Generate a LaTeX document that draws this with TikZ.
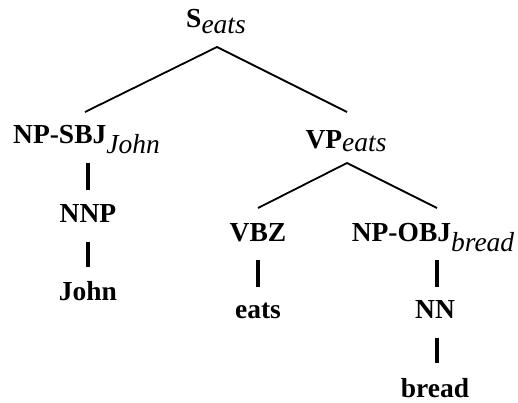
\documentclass[tikz,border=0pt]{standalone}
\usepackage{fontspec}
\setmainfont{Liberation Serif}[
  BoldFont={Liberation Serif Bold},
  ItalicFont={Liberation Serif Italic}]
\begin{document}
\begin{tikzpicture}[x=1pt,y=-1pt,
  lbl/.style={anchor=base,inner sep=0pt,font=\fontsize{27.5}{31}\selectfont\bfseries},
  branch/.style={line width=1.8pt},
  stem/.style={line width=3.4pt}]
\useasboundingbox (0,0) rectangle (518,402);
\newcommand{\subs}[2]{\raisebox{-#1pt}{\mdseries\itshape #2}}
% labels
\node[lbl] (S)     at (216,27.5)  {S\subs{6}{eats}};
\node[lbl] (NPSBJ) at (86.5,143) {NP-SBJ\subs{10}{John}};
\node[lbl] (VP)    at (346,148) {VP\subs{3}{eats}};
\node[lbl] (NNP)   at (88,222)  {NNP};
\node[lbl] (John)  at (88,300)  {John};
\node[lbl] (VBZ)   at (258,241) {VBZ};
\node[lbl] (NPOBJ) at (433,241) {NP-OBJ\subs{10}{bread}};
\node[lbl] (eats)  at (258,318) {eats};
\node[lbl] (NN)    at (435,318) {NN};
\node[lbl] (bread) at (435,397) {bread};
% connector end points
\coordinate (S-b) at (217,47);
\coordinate (NPSBJ-t) at (85,112);
\coordinate (VP-t) at (347,112);
\coordinate (VP-b) at (347,163);
\coordinate (VBZ-t) at (258,208);
\coordinate (NPOBJ-t) at (437,208);
\coordinate (NPSBJ-b) at (88,163);
\coordinate (NNP-t) at (88,190);
\coordinate (NNP-b) at (88,242);
\coordinate (John-t) at (88,267);
\coordinate (VBZ-b) at (258,260);
\coordinate (eats-t) at (258,287);
\coordinate (NPOBJ-b) at (437,260);
\coordinate (NN-t) at (437,287);
\coordinate (NN-b) at (437,338);
\coordinate (bread-t) at (437,363);
% connectors
\draw[branch] (NPSBJ-t) -- (S-b) -- (VP-t);
\draw[branch] (VBZ-t) -- (VP-b) -- (NPOBJ-t);
\draw[stem] (NPSBJ-b) -- (NNP-t);
\draw[stem] (NNP-b) -- (John-t);
\draw[stem] (VBZ-b) -- (eats-t);
\draw[stem] (NPOBJ-b) -- (NN-t);
\draw[stem] (NN-b) -- (bread-t);
\end{tikzpicture}
\end{document}
